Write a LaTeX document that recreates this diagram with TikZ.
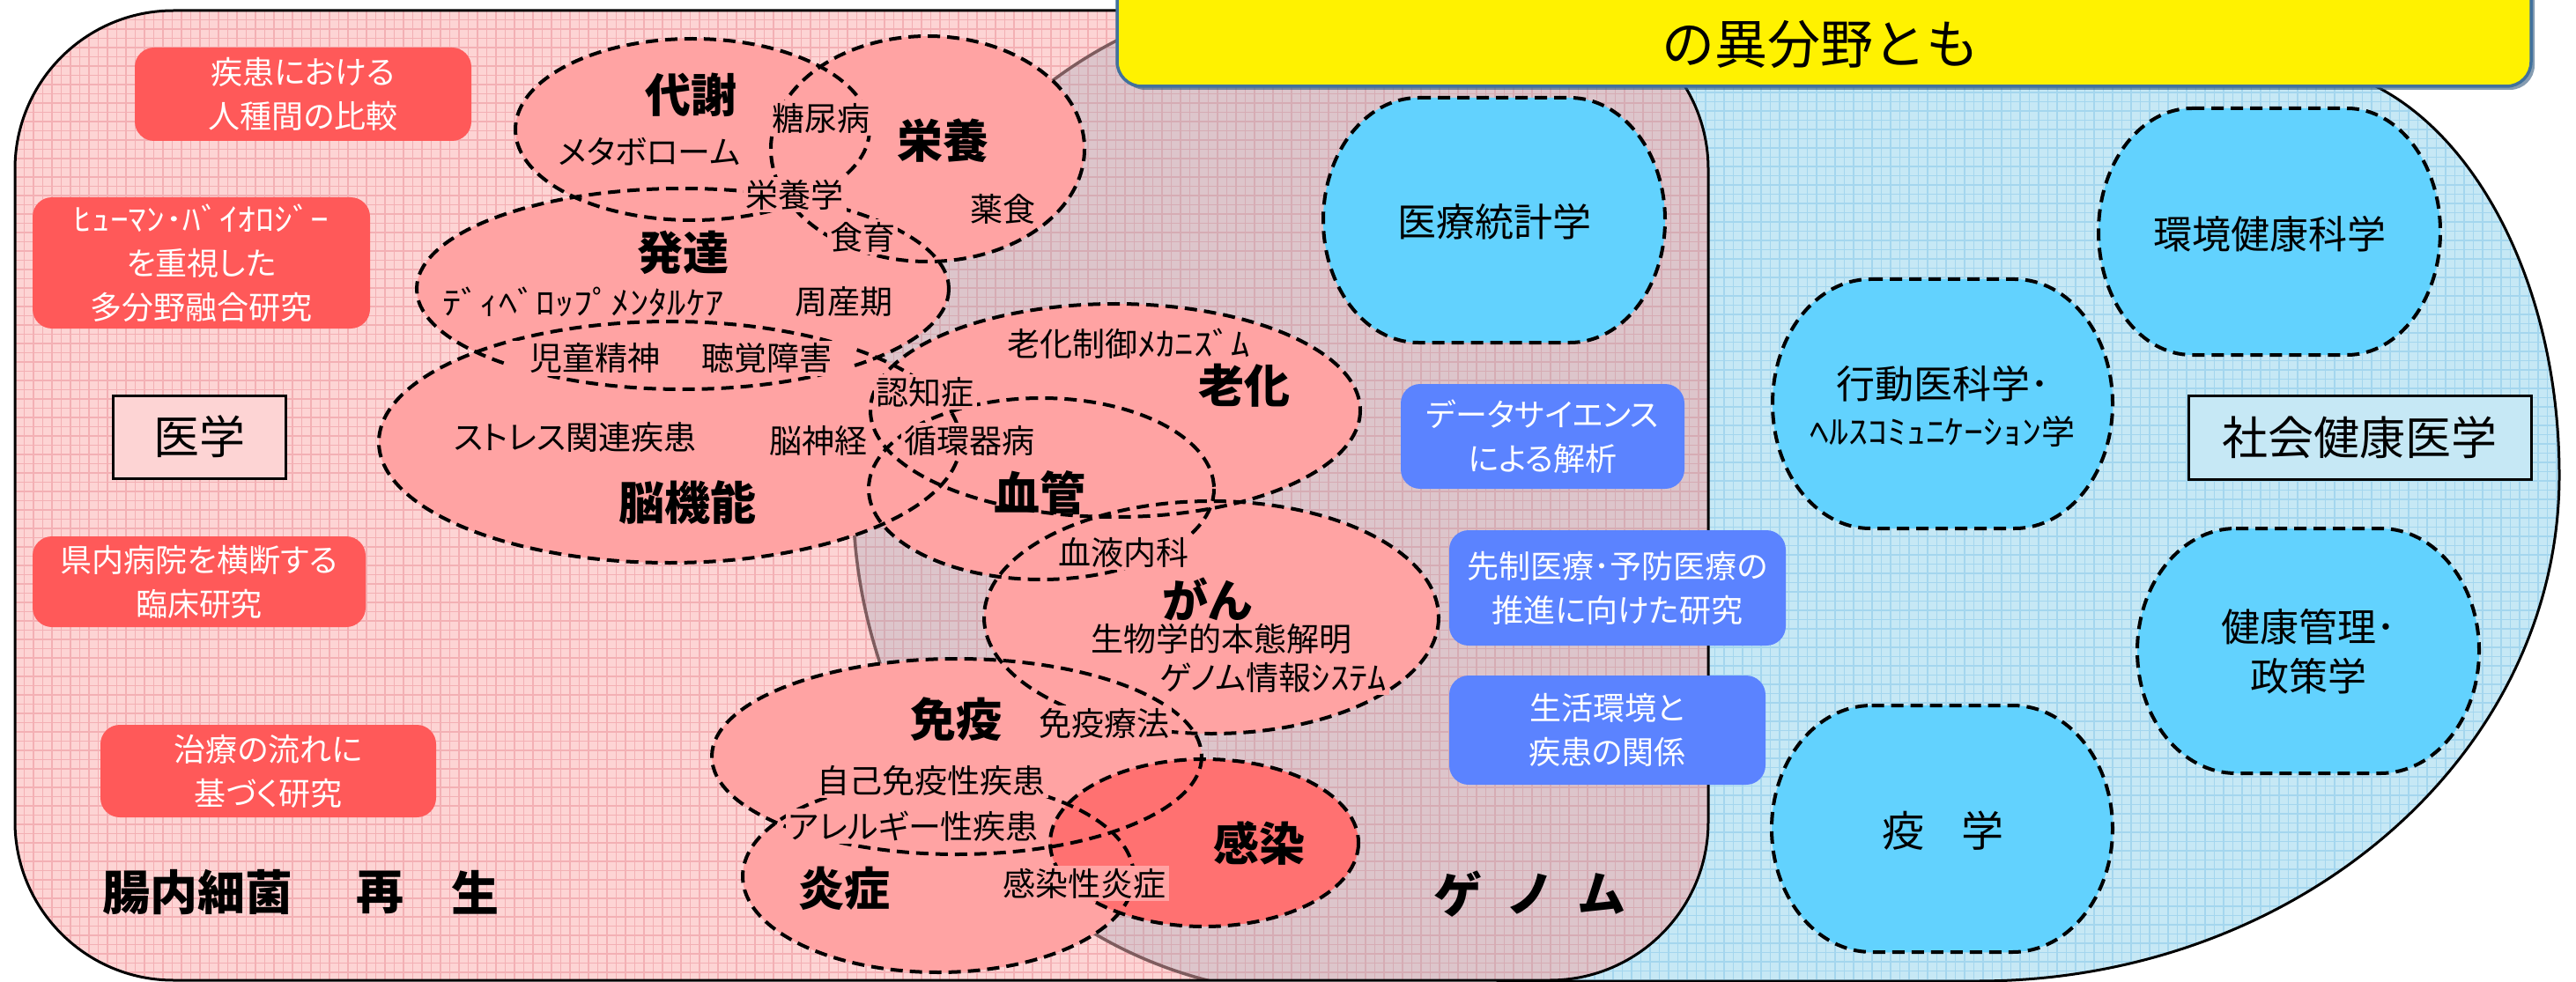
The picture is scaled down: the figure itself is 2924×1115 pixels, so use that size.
\documentclass[tikz,border=0pt]{standalone}
\usepackage{fontspec}
\usepackage{graphicx}
\setmainfont{Noto Sans CJK JP}[RawFeature=+palt]
\newfontfamily\jpfull{Noto Sans CJK JP}
\definecolor{pinkbg}{HTML}{FDD4D4}
\definecolor{pgridc}{HTML}{F3B0B4}
\definecolor{bluebg}{HTML}{C6E8F5}
\definecolor{bgridc}{HTML}{A4D6EE}
\definecolor{graytint}{HTML}{96A3B7}
\definecolor{genc}{HTML}{7E5C5E}
\definecolor{pk}{HTML}{FFA3A3}
\definecolor{rd}{HTML}{FF7171}
\definecolor{redbox}{HTML}{FF5959}
\definecolor{blubox}{HTML}{5B83FF}
\definecolor{bluov}{HTML}{62D2FE}
\definecolor{ybord}{HTML}{41719C}
\newcommand{\hw}[1]{\scalebox{1.15}[1]{#1}}
\newcommand{\blueoval}[5]{\draw[dsh, fill=bluov] ({#1-#5},{#2-#4}) -- ({#1+#5},{#2-#4}) arc[start angle=-90,end angle=90,x radius={#3-#5},y radius=#4] -- ({#1-#5},{#2+#4}) arc[start angle=90,end angle=270,x radius={#3-#5},y radius=#4] -- cycle;}
\tikzset{
 dsh/.style={draw=black, line width=4, dash pattern=on 14pt off 8pt},
 pgrid/.style={draw=pgridc, line width=1.1},
 bgrid/.style={draw=bgridc, line width=1.1},
 lab/.style={font=\fontsize{37}{44}\selectfont, inner sep=3, fill=pk},
 bigl/.style={font=\fontsize{52}{60}\selectfont\bfseries, inner sep=0},
 boxtxt/.style={font=\fontsize{36}{50}\selectfont, text=white, align=center, rounded corners=22, inner sep=0},
 redboxst/.style={boxtxt, fill=redbox},
 bluboxst/.style={boxtxt, fill=blubox},
 ovtxt/.style={font=\fontsize{44}{56}\selectfont, align=center, inner sep=0},
 lblframe/.style={draw=black, line width=3, font=\fontsize{52}{60}\selectfont, inner sep=0},
}
\begin{document}
\begin{tikzpicture}[x=1pt,y=-1pt]
\useasboundingbox (0,0) rectangle (2924,1115);
\clip (0,0) rectangle (2924,1115);
\fill[white] (-5,-5) rectangle (2930,1120);

% ---------- blue region (social health medicine)
\begin{scope}
 \clip (1700,74) -- (2600,74) arc[start angle=-90,end angle=0,x radius=305,y radius=466] arc[start angle=0,end angle=90,x radius=661,y radius=574] -- (1700,1114) -- cycle;
 \fill[bluebg] (1600,0) rectangle (2924,1115);
 \draw[bgrid] \foreach \x in {1600,1610.5,...,2924} {(\x,0) -- (\x,1115)};
 \draw[bgrid] \foreach \y in {0,10.5,...,1115} {(1600,\y) -- (2924,\y)};
\end{scope}
\draw[line width=3] (1700,74) -- (2600,74) arc[start angle=-90,end angle=0,x radius=305,y radius=466] arc[start angle=0,end angle=90,x radius=661,y radius=574] -- (1700,1114) -- cycle;

% ---------- pink region (medicine) and genome area
\begin{scope}
 \clip[rounded corners=180] (17,12) rectangle (1939,1113);
 \fill[pinkbg] (0,0) rectangle (1950,1115);
 \draw[pgrid] \foreach \x in {17,27.5,...,1939} {(\x,0) -- (\x,1115)};
 \draw[pgrid] \foreach \y in {12,22.5,...,1113} {(0,\y) -- (1950,\y)};
 \fill[graytint, fill opacity=0.3] (1490,-8) -- (2000,-8) -- (2000,1128) -- (1490,1128) arc[start angle=90,end angle=270,x radius=522,y radius=568] -- cycle;
 \draw[genc, line width=3.5] (1490,1128) arc[start angle=90,end angle=270,x radius=522,y radius=568];
\end{scope}
\draw[line width=3, rounded corners=180] (17,12) rectangle (1939,1113);

% ---------- red boxes
\node[redboxst, minimum width=382, minimum height=106] (b1) at (344,107) {疾患における\\人種間の比較};
\node[redboxst, minimum width=383, minimum height=149] (b2) at (228.5,298.5) {\hw{ﾋｭｰﾏﾝ･ﾊﾞｲｵﾛｼﾞｰ}\\を重視した\\多分野融合研究};
\node[redboxst, minimum width=378, minimum height=103] (b3) at (226,660.5) {県内病院を横断する\\臨床研究};
\node[redboxst, minimum width=381, minimum height=105] (b4) at (304.5,875.5) {治療の流れに\\基づく研究};

% ---------- framed labels
\node[lblframe, fill=pinkbg, minimum width=196, minimum height=94] (igaku) at (226,496) {医学};
\node[lblframe, fill=bluebg, minimum width=389, minimum height=95] (shakai) at (2678.5,496.5) {社会健康医学};

% ---------- pink ellipses (fills)
\fill[pk] (786,147) ellipse[x radius=201,y radius=103];
\fill[pk] (1053,169) ellipse[x radius=178,y radius=128];
\fill[pk] (775,328) ellipse[x radius=302,y radius=114];
\fill[pk] (760,502) ellipse[x radius=330,y radius=137];
\fill[pk] (1266,466) ellipse[x radius=278,y radius=121];
\fill[pk] (1182,555) ellipse[x radius=196,y radius=103];
\fill[pk] (1375,701) ellipse[x radius=258,y radius=132];
\fill[pk] (1086,859) ellipse[x radius=278,y radius=111];
\fill[pk] (1065,995) ellipse[x radius=222,y radius=109];
\fill[rd] (1367,957) ellipse[x radius=175,y radius=95];
% outlines
\draw[dsh] (786,147) ellipse[x radius=201,y radius=103];
\draw[dsh] (1053,169) ellipse[x radius=178,y radius=128];
\draw[dsh] (775,328) ellipse[x radius=302,y radius=114];
\draw[dsh] (760,502) ellipse[x radius=330,y radius=137];
\draw[dsh] (1266,466) ellipse[x radius=278,y radius=121];
\draw[dsh] (1182,555) ellipse[x radius=196,y radius=103];
\draw[dsh] (1375,701) ellipse[x radius=258,y radius=132];
\draw[dsh] (1086,859) ellipse[x radius=278,y radius=111];
\draw[dsh] (1065,995) ellipse[x radius=222,y radius=109];
\draw[dsh] (1367,957) ellipse[x radius=175,y radius=95];

% ---------- blue boxes
\node[bluboxst, minimum width=322, minimum height=119] (b5) at (1751,495.5) {データサイエンス\\による解析};
\node[bluboxst, minimum width=382, minimum height=131] (b6) at (1836,667.5) {先制医療･予防医療の\\推進に向けた研究};
\node[bluboxst, minimum width=359, minimum height=124] (b7) at (1824.5,829) {生活環境と\\疾患の関係};

% ---------- blue ovals
\blueoval{1696}{250}{194}{139}{86}
\blueoval{2576}{263}{194}{140}{88}
\blueoval{2205}{458.5}{193}{141.5}{82}
\blueoval{2620}{739}{194}{139}{82}
\blueoval{2204.5}{941}{193.5}{140}{80}
\node[ovtxt] (o1) at (1696,252) {医療統計学};
\node[ovtxt] (o2) at (2576,266) {環境健康科学};
\node[ovtxt] (o3a) at (2205,436) {行動医科学･};
\node[ovtxt, font=\fontsize{38}{44}\selectfont] (o3b) at (2205,490) {\hw{ﾍﾙｽｺﾐｭﾆｹｰｼｮﾝ}学};
\node[ovtxt] (o4) at (2620,740) {健康管理･\\政策学};
\node[ovtxt, font=\fontsize{48}{56}\selectfont] (o5a) at (2160,943) {疫};
\node[ovtxt, font=\fontsize{48}{56}\selectfont] (o5b) at (2250,943) {学};

% ---------- labels in pink ellipses
\node[bigl] (taisha) at (784,108) {代謝};
\node[lab] (metabo) at (737,172) {メタボローム};
\node[lab] (tonyo) at (932,134) {糖尿病};
\node[bigl] (eiyo) at (1070,160) {栄養};
\node[lab] (eiyogaku) at (902,221) {栄養学};
\node[lab] (yakushoku) at (1138,237) {薬食};
\node[lab] (shokuiku) at (979,269) {食育};
\node[bigl] (hattatsu) at (775,287) {発達};
\node[lab] (devel) at (662,343) {\hw{ﾃﾞｨﾍﾞﾛｯﾌﾟﾒﾝﾀﾙｹｱ}};
\node[lab] (shusanki) at (958,343) {周産期};
\node[lab, inner xsep=24] (jido) at (773,407) {児童精神\hspace{48pt}聴覚障害};
\node[lab] (rokaseigyo) at (1281,390) {老化制御\hw{ﾒｶﾆｽﾞﾑ}};
\node[bigl] (roka) at (1412,438) {老化};
\node[lab] (ninchi) at (1050,445) {認知症};
\node[lab] (stress) at (653,496) {ストレス関連疾患};
\node[lab] (noshinkei) at (929,500) {脳神経};
\node[lab] (junkan) at (1100,500) {循環器病};
\node[bigl] (kekkan) at (1180,560) {血管};
\node[bigl] (nokino) at (780,571) {脳機能};
\node[lab] (ketsueki) at (1275,627) {血液内科};
\node[bigl] (gan) at (1370,680) {がん};
\node[lab] (seibutsu) at (1386,725) {生物学的本態解明};
\node[lab] (genomejoho) at (1445,769) {ゲノム情報\hw{ｼｽﾃﾑ}};
\node[bigl] (meneki) at (1085,817) {免疫};
\node[lab] (menekiryo) at (1253,821) {免疫療法};
\node[lab] (jiko) at (1057,886) {自己免疫性疾患};
\node[lab] (allergy) at (1037,938) {アレルギー性疾患};
\node[bigl] (ensho) at (958,1009) {炎症};
\node[lab] (kansenen) at (1231,1003) {感染性炎症};
\node[bigl] (kansen) at (1429,957) {感染};

% ---------- bottom words
\node[font=\fontsize{54}{60}\selectfont\bfseries, inner sep=0] (chonai) at (224,1013) {腸内細菌};
\node[font=\fontsize{54}{60}\selectfont\bfseries, inner sep=0] (sai) at (431,1013) {再};
\node[font=\fontsize{54}{60}\selectfont\bfseries, inner sep=0] (sei) at (539,1013) {生};
\node[font=\fontsize{55}{60}\selectfont\bfseries, inner sep=0] (ge) at (1654,1015) {ゲ};
\node[font=\fontsize{55}{60}\selectfont\bfseries, inner sep=0] (no) at (1735,1015) {ノ};
\node[font=\fontsize{55}{60}\selectfont\bfseries, inner sep=0] (mu) at (1818,1015) {ム};

% ---------- yellow box
\fill[ybord!80!black, opacity=0.6, rounded corners=28] (1272,-60) rectangle (2877,102);
\draw[fill=yellow, draw=ybord, line width=3.5, rounded corners=28] (1268,-60) rectangle (2873,98);
\node[font=\jpfull\fontsize{60}{70}\selectfont, inner sep=0] (ytext) at (2066,50) {の異分野とも};
\end{tikzpicture}
\end{document}
